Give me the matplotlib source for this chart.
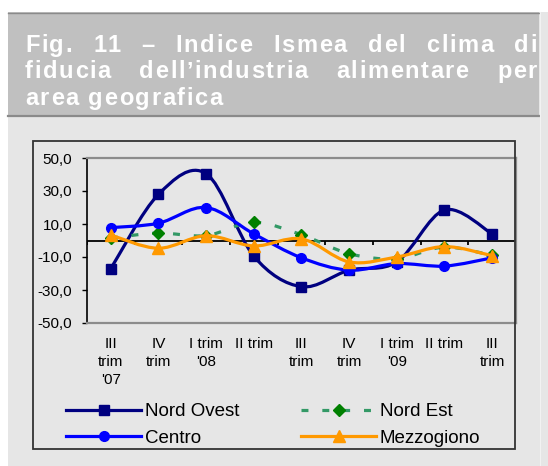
import numpy as np
import matplotlib
matplotlib.use('Agg')
import matplotlib.pyplot as plt
from matplotlib.path import Path
from matplotlib.patches import PathPatch, Rectangle
from matplotlib.lines import Line2D

plt.rcParams['font.family'] = ['Liberation Sans', 'DejaVu Sans']
plt.rcParams['lines.scale_dashes'] = False

# data
categories = ["III\ntrim\n'07", "IV\ntrim", "I trim\n'08", "II trim", "III\ntrim",
              "IV\ntrim", "I trim\n'09", "II trim", "III\ntrim"]
nord_ovest = [-17, 28, 40.5, -9.5, -28, -18, -13, 18.5, 4]
nord_est = [1.5, 4.5, 3, 11, 3.5, -8, -11, -4, -9]
centro = [7.8, 10.5, 20, 4, -10.5, -18, -14, -15.5, -10.5]
mezzogiono = [3.3, -4.7, 2.9, -3.3, 1, -13, -10, -3.7, -9.2]
y_ticks = [-50, -30, -10, 10, 30, 50]

title_lines = [["Fig.", "11", "–", "Indice", "Ismea", "del", "clima", "di"],
               ["fiducia", "dell’industria", "alimentare", "per"],
               ["area", "geografica"]]

W, H = 548, 466
fig = plt.figure(figsize=(W / 100, H / 100), dpi=100)


def fx(x):
    return x / W


def fy(y):
    return 1 - y / H


def box(x0, y0, x1, y1, **kw):
    fig.add_artist(Rectangle((fx(x0), fy(y1)), fx(x1) - fx(x0), fy(y0) - fy(y1),
                             transform=fig.transFigure, **kw))


# page background, title band, chart frame
box(8, 12, 548, 466, facecolor='#e6e6e6', edgecolor='none', zorder=0)
box(8, 12, 539, 116, facecolor='#c0c0c0', edgecolor='none', zorder=0)
fig.add_artist(Line2D([fx(8), fx(539)], [fy(12.5), fy(12.5)], transform=fig.transFigure,
                      color='#8a8a8a', lw=1))
fig.add_artist(Line2D([fx(8), fx(539)], [fy(116), fy(116)], transform=fig.transFigure,
                      color='#8a8a8a', lw=1.6))
fig.add_artist(Line2D([fx(539.5), fx(539.5)], [fy(12), fy(466)], transform=fig.transFigure,
                      color='#f2f2f2', lw=0.8))
box(33, 141, 515, 449, facecolor='none', edgecolor='#333333', lw=1.3, zorder=1)

# title: bold white, letter spaced, justified
renderer = fig.canvas.get_renderer()
fs = 17
ls = 1.6


def text_w(s):
    t = fig.text(0, 0, s, fontsize=fs, fontweight='bold')
    w = t.get_window_extent(renderer).width
    t.remove()
    return w


def word_layout(word):
    offs = [text_w(word[:k]) + ls * k if k else 0 for k in range(len(word))]
    return offs, text_w(word) + ls * (len(word) - 1)


left, right = 25, 537
baselines = [51.7, 78.2, 104.7]
for i, words in enumerate(title_lines):
    lay = [word_layout(w) for w in words]
    total = sum(l[1] for l in lay)
    if i < len(title_lines) - 1:
        gap = (right - left - total) / (len(words) - 1)
    else:
        gap = 0.278 * fs / 0.72 + 2 * ls
    x = left
    for w, (offs, ww) in zip(words, lay):
        for ch, o in zip(w, offs):
            fig.text(fx(x + o), fy(baselines[i]), ch, fontsize=fs, fontweight='bold',
                     color='white', va='baseline', ha='left')
        x += ww + gap

# plot area
ax = fig.add_axes([fx(87), fy(323), fx(516) - fx(87), fy(158) - fy(323)])
ax.set_facecolor('none')
ax.set_xlim(-0.5, len(categories) - 0.5)
ax.set_ylim(-50, 50)
x = np.arange(len(categories))


def smooth_path(xs, ys):
    p = np.column_stack([xs, ys]).astype(float)
    pts = np.vstack([p[0], p, p[-1]])
    verts, codes = [p[0]], [Path.MOVETO]
    for i in range(1, len(p)):
        p0, p1, p2, p3 = pts[i - 1], pts[i], pts[i + 1], pts[i + 2]
        verts += [p1 + (p2 - p0) / 6, p2 - (p3 - p1) / 6, p2]
        codes += [Path.CURVE4] * 3
    return Path(verts, codes)


series = [
    ("Nord Ovest", nord_ovest, '#000080', '-', 's', 7.2, '#000080'),
    ("Nord Est", nord_est, '#339966', (0, (5, 10)), 'D', 6.2, '#008000'),
    ("Centro", centro, '#0000ff', '-', 'o', 7, '#0000ff'),
    ("Mezzogiono", mezzogiono, '#ff9900', '-', '^', 8, '#ff9900'),
]

ax.axhline(0, color='black', lw=1.3, zorder=2)
ax.vlines(np.arange(len(categories) + 1) - 0.5, -2.6, 0, color='black', lw=1.3, zorder=2)

handles = {}
for z, (name, vals, col, sty, mk, ms, mcol) in enumerate(series):
    ax.add_patch(PathPatch(smooth_path(x, vals), facecolor='none', edgecolor=col, lw=2.3,
                           linestyle=sty, capstyle='butt', joinstyle='round', zorder=3 + z))
    ax.plot(x, vals, ls='none', marker=mk, ms=ms, mfc=mcol, mec=mcol, zorder=3 + z)
    handles[name] = Line2D([], [], color=col, lw=2.3, linestyle=sty, marker=mk, ms=ms,
                           mfc=mcol, mec=mcol)

for side in ['top', 'right', 'bottom']:
    ax.spines[side].set_color('#8c8c8c')
    ax.spines[side].set_linewidth(1.6)
ax.spines['left'].set_color('black')
ax.spines['left'].set_linewidth(1.2)

ax.set_yticks(y_ticks)
ax.set_yticklabels([f"{v:.1f}".replace('.', ',') for v in y_ticks], fontsize=11)
ax.tick_params(axis='y', length=3.6, width=1, pad=7, direction='out')
ax.set_xticks(x)
ax.set_xticklabels(categories, fontsize=11, linespacing=1.38)
ax.tick_params(axis='x', length=0, pad=10)

order = ["Nord Ovest", "Centro", "Nord Est", "Mezzogiono"]
fig.legend([handles[n] for n in order], order, ncol=2, loc='upper left',
           bbox_to_anchor=(fx(66), fy(403)), frameon=False, fontsize=13.5,
           handlelength=4.0, handletextpad=0.2, columnspacing=3.3,
           labelspacing=0.5, borderpad=0, borderaxespad=0)

fig.savefig('out.png', dpi=100)
